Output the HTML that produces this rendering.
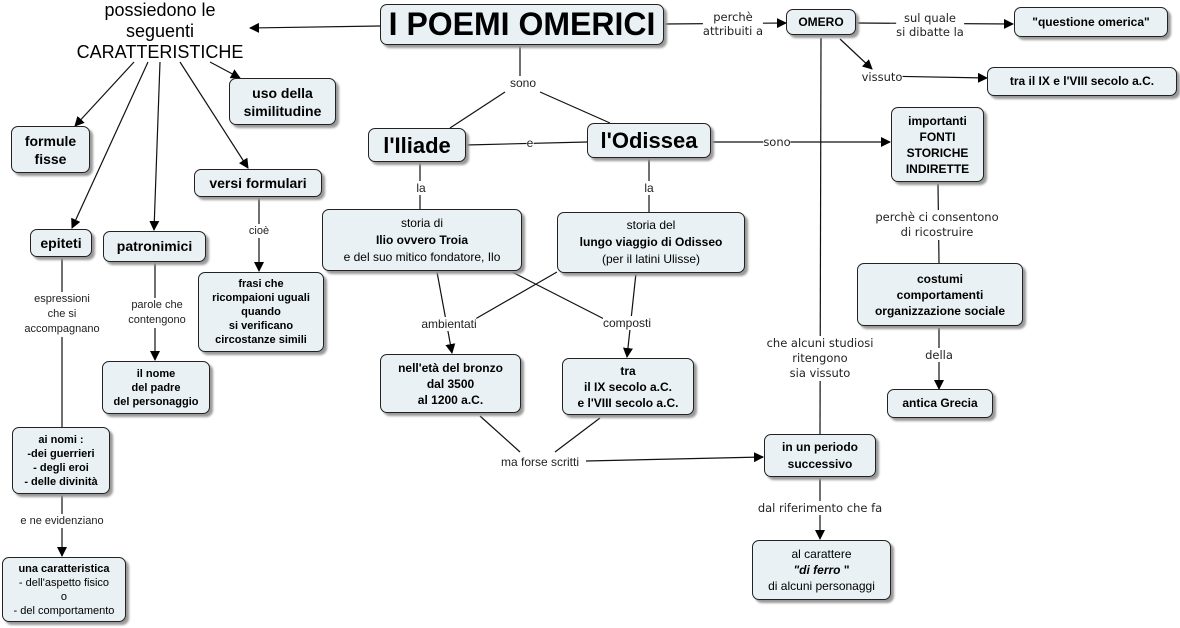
<!DOCTYPE html>
<html><head><meta charset="utf-8"><style>
body{margin:0;width:1180px;height:628px;background:#fff;position:relative;overflow:hidden;font-family:"Liberation Sans",sans-serif;}
.n{position:absolute;box-sizing:border-box;border:1.5px solid #222;border-radius:7px;background:#e9f1f4;box-shadow:3px 3px 2px #999;display:flex;align-items:center;justify-content:center;text-align:center;font-weight:bold;font-size:12px;line-height:15px;color:#000;}
.l{position:absolute;font-size:12px;line-height:14px;text-align:center;background:#fff;color:#222;transform:translateX(-50%);white-space:nowrap;}
.v{font-family:"DejaVu Sans",sans-serif;font-size:11.5px;}
svg{position:absolute;left:0;top:0;}
</style></head><body>
<svg width="1180" height="628">
<defs><marker id="a" markerWidth="10" markerHeight="10" refX="9" refY="5" orient="auto" markerUnits="userSpaceOnUse"><path d="M0,0 L10,5 L0,10z" fill="#000"/></marker></defs>
<g stroke="#111" stroke-width="1.2" fill="none">
<line x1="380" y1="26" x2="250" y2="28" marker-end="url(#a)"/>
<line x1="134" y1="62" x2="75" y2="126" marker-end="url(#a)"/>
<line x1="148" y1="62" x2="72" y2="228" marker-end="url(#a)"/>
<line x1="160" y1="62" x2="154" y2="230" marker-end="url(#a)"/>
<line x1="180" y1="62" x2="248" y2="168" marker-end="url(#a)"/>
<line x1="210" y1="62" x2="240" y2="78" marker-end="url(#a)"/>
<line x1="259" y1="198" x2="259" y2="271" marker-end="url(#a)"/>
<line x1="62" y1="258" x2="62" y2="427"/>
<line x1="155" y1="263" x2="155" y2="360" marker-end="url(#a)"/>
<line x1="62" y1="495" x2="62" y2="556" marker-end="url(#a)"/>
<line x1="520" y1="46" x2="520" y2="85"/>
<line x1="505" y1="92" x2="450" y2="128"/>
<line x1="540" y1="92" x2="610" y2="123"/>
<line x1="466" y1="145" x2="587" y2="142"/>
<line x1="420" y1="163" x2="420" y2="209"/>
<line x1="649" y1="158" x2="649" y2="212"/>
<line x1="711" y1="142" x2="890" y2="142" marker-end="url(#a)"/>
<line x1="664" y1="24" x2="786" y2="23" marker-end="url(#a)"/>
<line x1="856" y1="23" x2="1013" y2="24" marker-end="url(#a)"/>
<line x1="840" y1="39" x2="872" y2="69" marker-end="url(#a)"/>
<line x1="880" y1="76" x2="987" y2="78" marker-end="url(#a)"/>
<line x1="821" y1="38" x2="820" y2="434"/>
<line x1="938" y1="184" x2="939" y2="263"/>
<line x1="939" y1="328" x2="939" y2="389" marker-end="url(#a)"/>
<line x1="437" y1="272" x2="452" y2="353" marker-end="url(#a)"/>
<line x1="512" y1="272" x2="610" y2="322"/>
<line x1="636" y1="273" x2="627" y2="357" marker-end="url(#a)"/>
<line x1="557" y1="272" x2="470" y2="322"/>
<line x1="480" y1="416" x2="520" y2="452"/>
<line x1="600" y1="418" x2="555" y2="452"/>
<line x1="586" y1="461" x2="763" y2="457" marker-end="url(#a)"/>
<line x1="820" y1="478" x2="820" y2="539" marker-end="url(#a)"/>
</g></svg>

<div class="l" style="left:160px;top:0;font-size:18px;line-height:21px;color:#000;background:none">possiedono le<br>seguenti<br>CARATTERISTICHE</div>
<div class="n" style="left:380px;top:4px;width:284px;height:41px;font-size:32px;">I POEMI OMERICI</div>
<div class="n" style="left:229px;top:78px;width:107px;height:47px;font-size:14px;line-height:18px">uso della<br>similitudine</div>
<div class="n" style="left:11px;top:126px;width:79px;height:47px;font-size:14px;line-height:18px">formule<br>fisse</div>
<div class="n" style="left:194px;top:169px;width:128px;height:28px;font-size:14px">versi formulari</div>
<div class="n" style="left:30px;top:229px;width:62px;height:28px;font-size:14px">epiteti</div>
<div class="n" style="left:103px;top:231px;width:103px;height:31px;font-size:14px">patronimici</div>
<div class="n" style="left:198px;top:272px;width:126px;height:80px;font-size:11px;line-height:14px">frasi che<br>ricompaioni uguali<br>quando<br>si verificano<br>circostanze simili</div>
<div class="n" style="left:102px;top:361px;width:108px;height:53px;font-size:11px;line-height:14px">il nome<br>del padre<br>del personaggio</div>
<div class="n" style="left:12px;top:427px;width:98px;height:67px;font-size:11px;line-height:14px">ai nomi :<br>-dei guerrieri<br>- degli eroi<br>- delle divinità</div>
<div class="n" style="left:2px;top:557px;width:124px;height:65px;font-size:11px;line-height:14px;font-weight:normal"><div><b>una caratteristica</b><br>- dell'aspetto fisico<br>o<br>- del comportamento</div></div>
<div class="l" style="left:62px;top:292px;font-size:11px;line-height:15px">espressioni<br>che si<br>accompagnano</div>
<div class="l" style="left:157px;top:298px;font-size:11px;line-height:15px">parole che<br>contengono</div>
<div class="l" style="left:259px;top:224px;font-size:11px">cioè</div>
<div class="l" style="left:62px;top:514px;font-size:11px">e ne evidenziano</div>

<div class="n" style="left:368px;top:128px;width:98px;height:34px;font-size:22px">l'Iliade</div>
<div class="n" style="left:587px;top:123px;width:124px;height:35px;font-size:22px">l'Odissea</div>
<div class="n" style="left:322px;top:209px;width:200px;height:62px;font-weight:normal;line-height:17px"><div>storia di<br><b>Ilio ovvero Troia</b><br>e del suo mitico fondatore, Ilo</div></div>
<div class="n" style="left:557px;top:212px;width:188px;height:61px;font-weight:normal;line-height:17px"><div>storia del<br><b>lungo viaggio di Odisseo</b><br>(per il latini Ulisse)</div></div>
<div class="n" style="left:380px;top:354px;width:141px;height:59px;line-height:16px">nell'età del bronzo<br>dal 3500<br>al 1200 a.C.</div>
<div class="n" style="left:562px;top:358px;width:132px;height:57px;line-height:16px">tra<br>il IX secolo a.C.<br>e l'VIII secolo a.C.</div>
<div class="n" style="left:764px;top:434px;width:112px;height:43px;line-height:17px">in un periodo<br>successivo</div>
<div class="n" style="left:752px;top:540px;width:139px;height:60px;font-weight:normal;line-height:16px"><div>al carattere<br><b><i>"di ferro</i> "</b><br>di alcuni personaggi</div></div>
<div class="l" style="left:523px;top:76px">sono</div>
<div class="l" style="left:530px;top:136px">e</div>
<div class="l" style="left:421px;top:181px">la</div>
<div class="l" style="left:649px;top:181px">la</div>
<div class="l" style="left:449px;top:317px">ambientati</div>
<div class="l" style="left:627px;top:316px">composti</div>
<div class="l" style="left:540px;top:455px">ma forse scritti</div>
<div class="l v" style="left:820px;top:501px">dal riferimento che fa</div>

<div class="n" style="left:786px;top:9px;width:70px;height:26px">OMERO</div>
<div class="n" style="left:1014px;top:7px;width:154px;height:30px">"questione omerica"</div>
<div class="n" style="left:987px;top:67px;width:190px;height:29px">tra il IX e l'VIII secolo a.C.</div>
<div class="n" style="left:891px;top:107px;width:93px;height:75px;line-height:16px">importanti<br>FONTI<br>STORICHE<br>INDIRETTE</div>
<div class="n" style="left:857px;top:263px;width:166px;height:63px;line-height:16px">costumi<br>comportamenti<br>organizzazione sociale</div>
<div class="n" style="left:887px;top:389px;width:106px;height:29px">antica Grecia</div>
<div class="l v" style="left:733px;top:10px;line-height:14px">perchè<br>attribuiti a</div>
<div class="l v" style="left:930px;top:11px;line-height:14px">sul quale<br>si dibatte la</div>
<div class="l v" style="left:882px;top:70px">vissuto</div>
<div class="l v" style="left:777px;top:135px">sono</div>
<div class="l v" style="left:937px;top:210px;line-height:15px">perchè ci consentono<br>di ricostruire</div>
<div class="l v" style="left:939px;top:348px">della</div>
<div class="l v" style="left:820px;top:336px;line-height:15px">che alcuni studiosi<br>ritengono<br>sia vissuto</div>
</body></html>
